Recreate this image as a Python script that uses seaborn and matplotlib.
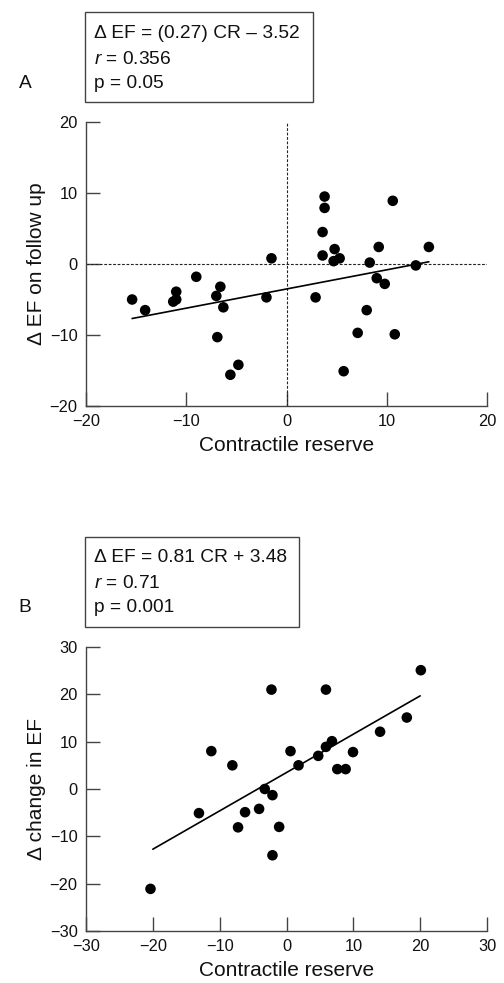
import numpy as np
import pandas as pd
import seaborn as sns
import matplotlib.pyplot as plt
from matplotlib.patches import Rectangle

# panel A: contractile reserve vs change in EF on follow up
cr_a = [-15.4, -14.1, -11.3, -11.0, -11.0, -9.0, -7.0, -6.6, -6.3, -6.9, -4.8, -5.6, -2.0, -1.5,
        3.8, 3.8, 3.6, 3.6, 4.8, 4.7, 5.3, 2.9, 5.7, 7.1, 8.0, 8.3, 9.0, 9.2, 9.8, 10.6, 10.8, 12.9, 14.2]
ef_a = [-5.0, -6.5, -5.3, -5.0, -3.9, -1.8, -4.5, -3.2, -6.1, -10.3, -14.2, -15.6, -4.7, 0.8,
        9.5, 7.9, 4.5, 1.2, 2.1, 0.4, 0.8, -4.7, -15.1, -9.7, -6.5, 0.2, -2.0, 2.4, -2.8, 8.9, -9.9, -0.2, 2.4]
slope_a, icpt_a = 0.27, -3.52

# panel B
cr_b = [-20.35, -13.1, -11.25, -8.1, -7.25, -6.2, -4.1, -3.25, -2.1, -2.25, -2.1, -1.1, 0.6, 1.8,
        4.75, 5.9, 6.8, 5.9, 7.6, 8.85, 9.95, 14.0, 18.0, 20.1]
ef_b = [-21.1, -5.1, 8.0, 5.0, -8.1, -4.9, -4.2, 0.0, -1.3, 21.0, -14.0, -8.0, 8.0, 5.0,
        7.0, 8.9, 10.1, 21.0, 4.2, 4.2, 7.8, 12.1, 15.1, 25.1]
slope_b, icpt_b = 0.81, 3.48

box_a = ["\u0394 EF = (0.27) CR \u2013 3.52", "$r$ = 0.356", "p = 0.05"]
box_b = ["\u0394 EF = 0.81 CR + 3.48", "$r$ = 0.71", "p = 0.001"]

sns.set_style("ticks")
plt.rcParams['font.family'] = ['Liberation Sans', 'DejaVu Sans']
plt.rcParams['mathtext.fontset'] = 'custom'
plt.rcParams['mathtext.it'] = 'Liberation Sans:italic'
plt.rcParams['mathtext.rm'] = 'Liberation Sans'
plt.rcParams['axes.unicode_minus'] = True

W, H = 504, 983
fig = plt.figure(figsize=(W / 100, H / 100), dpi=100)
edge = "#444444"


def make_axes(top_px):
    ax = fig.add_axes([86 / W, 1 - (top_px + 284) / H, 401 / W, 284 / H])
    return ax


def style(ax, lim, step, ylabel):
    ax.set_xlim(-lim[0], lim[0])
    ax.set_ylim(-lim[1], lim[1])
    ax.set_xticks(np.arange(-lim[0], lim[0] + 1, step[0]))
    ax.set_yticks(np.arange(-lim[1], lim[1] + 1, step[1]))
    ax.tick_params(direction="in", length=10, width=1, color=edge, labelsize=11.8, pad=6,
                   labelcolor="#111111")
    for s in ["top", "right"]:
        ax.spines[s].set_visible(False)
    for s in ["left", "bottom"]:
        ax.spines[s].set_color(edge)
        ax.spines[s].set_linewidth(1)
    ax.set_xlabel("Contractile reserve", fontsize=15, labelpad=5, color="#111111")
    ax.set_ylabel(ylabel, fontsize=15, labelpad=3, color="#111111")


def text_box(top, bottom, right, lines, centers, letter):
    fig.patches.append(Rectangle((85 / W, 1 - bottom / H), (right - 85) / W, (bottom - top) / H,
                                 transform=fig.transFigure, fill=False, edgecolor=edge, lw=1))
    for t, c in zip(lines, centers):
        fig.text(94 / W, 1 - c / H, t, fontsize=13.8, va="center", ha="left", color="#111111")
    fig.text(25 / W, 1 - centers[-1] / H, letter, fontsize=13.8, va="center", ha="center",
             color="#111111")


# ---- A ----
ax1 = make_axes(122)
ax1.axhline(0, color="#222222", lw=0.8, ls=(0, (2.5, 1.5)), zorder=1)
ax1.axvline(0, color="#222222", lw=0.8, ls=(0, (2.5, 1.5)), zorder=1)
df_a = pd.DataFrame({"cr": cr_a, "ef": ef_a})
xa = np.array([df_a.cr.min(), df_a.cr.max()])
sns.lineplot(x=xa, y=slope_a * xa + icpt_a, color="black", lw=1.2, ax=ax1)
sns.scatterplot(data=df_a, x="cr", y="ef", color="black", s=58, edgecolor="none", ax=ax1, zorder=3)
style(ax1, (20, 20), (10, 10), "\u0394 EF on follow up")
text_box(12, 102, 313, box_a, [33, 59, 83], "A")

# ---- B ----
ax2 = make_axes(647)
df_b = pd.DataFrame({"cr": cr_b, "ef": ef_b})
xb = np.array([-20, 20])
sns.lineplot(x=xb, y=slope_b * xb + icpt_b, color="black", lw=1.2, ax=ax2)
sns.scatterplot(data=df_b, x="cr", y="ef", color="black", s=58, edgecolor="none", ax=ax2, zorder=3)
style(ax2, (30, 30), (10, 10), "\u0394 change in EF")
text_box(537, 627, 299, box_b, [558, 583, 607], "B")

fig.savefig("out.png", dpi=100)
